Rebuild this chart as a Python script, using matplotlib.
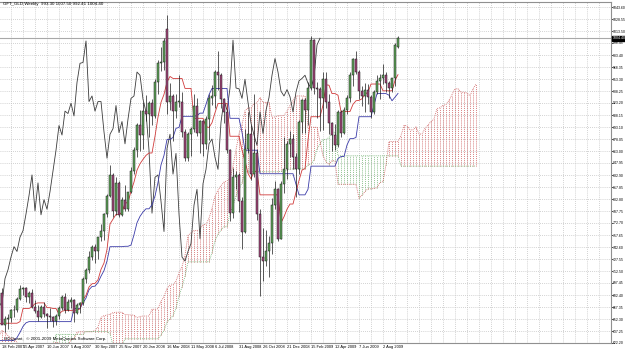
import numpy as np
import matplotlib
matplotlib.use("Agg")
import matplotlib.pyplot as plt
import matplotlib.transforms as mtransforms

# ---- weekly candles GFT_GLD (18 Feb 2007 .. 6 Sep 2009) ----
opens = [668,685,645,652,654,663,663,677,690,691,680,685,667,662,655,667,658,656,655,650,
         656,666,680,664,674,676,660,670,672,703,714,730,743,737,755,763,784,807,833,788,
         823,783,802,790,812,838,864,895,883,913,910,923,907,949,973,974,1016,925,932,913,
         925,925,887,854,884,891,920,886,900,872,903,929,932,962,958,928,912,864,785,830,
         833,800,762,866,884,834,860,784,730,725,737,747,795,815,753,822,840,872,878,855,
         840,899,927,914,942,1002,942,941,929,953,924,898,883,870,912,885,914,930,958,979,
         962,938,932,940,931,912,937,951,954,958,948,942,955,993.30]
highs = [690,691,656,658,665,670,680,695,692,692,688,690,676,670,670,673,660,666,656,659,
         668,683,685,678,680,678,672,674,705,716,737,745,746,755,771,785,809,845,835,830,
         826,805,820,812,843,868,898,914,925,933,926,928,953,977,993,1005,1033,948,935,935,
         958,937,890,887,893,935,930,902,902,907,935,946,965,988,961,930,916,866,842,838,
         835,805,890,912,896,935,865,790,767,764,756,804,826,817,826,880,875,888,884,860,
         902,928,929,949,1007,1003,949,943,962,962,935,899,897,915,915,918,933,962,980,989,
         965,945,948,947,933,940,958,960,972,962,951,955,998,1007.50]
lows = [664,648,636,640,648,655,661,676,682,673,672,666,660,650,653,655,641,650,642,645,
        652,663,660,662,666,648,658,660,670,698,710,726,722,727,750,752,780,805,780,783,
        780,782,788,788,810,834,855,863,866,900,880,895,904,934,963,965,910,915,875,905,
        918,880,850,851,857,887,882,860,857,865,877,921,917,940,917,898,860,775,779,815,
        786,740,760,860,827,830,776,681,700,719,705,734,790,750,753,810,828,855,840,805,
        834,885,885,895,940,935,904,888,889,917,884,863,864,868,880,884,910,925,945,960,
        928,920,912,922,905,910,935,928,947,937,930,937,945,992.41]
closes = [685,645,652,654,663,663,677,690,691,680,685,667,662,655,667,658,656,655,650,656,
          666,680,664,674,676,660,670,672,703,714,730,743,737,755,763,784,807,833,788,823,
          783,802,790,812,838,864,895,883,913,910,923,907,949,973,974,1001,925,932,913,925,
          925,887,854,884,891,920,886,900,872,903,929,932,962,958,928,912,864,785,830,833,
          800,762,866,884,834,860,784,730,725,737,747,795,815,753,822,840,872,878,855,840,
          899,927,914,942,1002,942,941,929,953,924,898,883,870,912,885,914,930,958,979,962,
          938,932,940,931,912,937,951,954,958,948,942,955,996,1004.40]

# ---- Ichimoku lines ----
tenkan = [646.5,647,647,647,647,647,647,649,665.5,665.5,665.5,667.5,671.5,672.5,672.5,672.5,
          666.5,666.5,665.5,665.5,658.5,662,663,663,663,663.5,663.5,665,676.5,682,692.5,696.5,
          697,701.5,714.5,722.5,739.5,771.5,777.5,783.5,783.5,786,797.5,798.5,812.5,824,839,847,
          852.5,857.5,860.5,860.5,881.5,905.5,924,934,949.5,956.5,954,954,954,954,941.5,941.5,
          941.5,904,904,904,904,893.5,892.5,898.5,911,922.5,922.5,922.5,922.5,881.5,881.5,881.5,
          881.5,864,850.5,835,828,837.5,837.5,808,808,808,808,808,808,808,773,780.5,790,796.5,
          796.5,811,826,839,841,877,906,906,906,906,920.5,946,945.5,935,935,933,912.5,912.5,
          912.5,912.5,921.5,926,926.5,928.5,934.5,936.5,947,947,947,947,938.5,938.5,938.5,938.5,
          951.5,958.75]
kijun = [625,625.5,625.5,625.5,625.5,625.5,629,635.5,643,647.5,649,649,649,649,649,649,649,649,
         649,649,649,649,649,649,649,665.5,665.5,665.5,672.5,678.5,689,693,693.5,698,706,713,725,
         743,743,743,743,743,743.5,743.5,745,758,773,781,786.5,790.5,790.5,795.5,806.5,823.5,
         845.5,857.5,877.5,877.5,880,891.5,892.5,906.5,906.5,906.5,906.5,906.5,907.5,910.5,910.5,
         921.5,933.5,941.5,941.5,941.5,941.5,941.5,941.5,904,904,904,904,886.5,864,864,864,864,
         864,834.5,834.5,834.5,834.5,834.5,834.5,834.5,834.5,834.5,834.5,834.5,834.5,821,808,808,
         808,815,844,844,844,844,844,844,844,844,844,853.5,856,856,870.5,878.5,878.5,880,906,906,
         906,906,906,920.5,935,935,935,935,933,926,930.5,935.25]
span_a = [631.25,638,635.5,631.5,627.5,627.5,622.75,618.75,615.5,615.5,616.5,615.25,603.25,606.5,
          607.75,609.5,616,619.75,622,623,622.25,618.25,618.25,619,626.5,627.25,635.75,636.25,
          636.25,636.25,636.25,636.25,638,642.25,654.25,656.5,657.25,658.25,660.25,660.75,660.75,
          660.75,657.75,657.75,657.25,657.25,653.75,655.5,656,656,656,664.5,664.5,665.25,674.5,
          680.25,690.75,694.75,695.25,699.75,710.25,717.75,732.25,757.25,760.25,763.25,763.25,
          764.5,770.5,771,778.75,791,806,814,819.5,824,825.5,828,844,864.5,884.75,895.75,913.5,
          917,917,922.75,923.25,930.25,924,924,924,905.25,905.75,907.25,907.25,907.5,913,920,
          926.25,932,932,932,932,892.75,892.75,892.75,892.75,875.25,857.25,849.5,846,850.75,
          850.75,821.25,821.25,821.25,821.25,821.25,821.25,821.25,803.75,807.5,812.25,815.5,
          815.5,816,817,823.5,824.5,846,875,875,875,875,882.25,895,894.75,889.5,889.5,893.25,
          884.25,884.25,891.5,895.5,900,903,916.25,917.25,920.25,921.25,926.5,933.75,941,941,
          936.75,936.75,935.75,932.25,941,947]
span_b = [581.5,585.5,587.5,591.5,593.5,593.5,593.5,593.5,593.5,593.5,593.5,595.5,605,610,612.5,
          612.5,612.5,612.5,621,633,633,633,633,633,633,633,633,633,633,636.5,636.5,636.5,636.5,
          636.5,636.5,636.5,636.5,634,619,619,619,619,627.5,627.5,627.5,627.5,627.5,627.5,627.5,
          627.5,627.5,627.5,627.5,627.5,632.5,638,648.5,652.5,656.5,665.5,681,692.5,706,724,724,
          724,724,724,724,724,724,735.5,750.5,758.5,764,768,768,784.5,794.5,806.5,816.5,823,837,
          837,837,837,837,837,837,837,837,837,837,837,837.5,837.5,839,840.5,840.5,840.5,840.5,
          840.5,840.5,845.5,846.5,851.5,865.5,871.5,877.5,877.5,880,886.5,886.5,857,857,857,857,
          857,857,857,857,857,857,857,857,857,857,857,857,857,857,857,857,857,844,844,844,844,844,
          844,844,844,844,844,844,844,844,844,844,844,844,844,844,844,844,844,844,844,844,844.25]

price_ticks = [622.20,637.25,652.30,667.35,682.40,697.45,712.50,727.55,742.60,757.65,772.70,
               787.75,802.80,817.85,832.90,847.95,863.00,878.05,893.10,908.15,923.20,938.25,
               953.30,968.35,983.40,998.45,1013.50,1028.55,1043.60]
date_labels = ["18 Feb 2007","15 Apr 2007","10 Jun 2007","5 Aug 2007","30 Sep 2007","25 Nov 2007",
               "20 Jan 2008","16 Mar 2008","11 May 2008","6 Jul 2008","31 Aug 2008","26 Oct 2008",
               "21 Dec 2008","15 Feb 2009","12 Apr 2009","7 Jun 2009","2 Aug 2009"]
date_bars = [0, 8, 16, 24, 32, 40, 48, 56, 64, 72, 80, 88, 96, 104, 112, 120, 128]
title = "GFT_GLD,Weekly  993.30 1007.50 992.41 1004.40"
shift = 26

W, H = 625, 350
plt.rcParams["font.family"] = ["Liberation Sans", "DejaVu Sans"]
fig = plt.figure(figsize=(6.25, 3.5), dpi=100)
ax = fig.add_axes([0, (H-343)/H, 611/W, (343-2)/H])
ax.set_xlim(1/3, 204)
ylo = 622.20
ax.set_ylim(ylo, ylo + 341*15.05/12)

for v in price_ticks:
    ax.axhline(v, color="#c4c4c4", lw=0.6, ls=(0, (1, 1.5)), zorder=0)
for b in range(0, 205, 4):
    ax.axvline(b, color="#c4c4c4", lw=0.6, ls=(0, (1, 1.5)), zorder=0)

# Kumo cloud (hatched by dotted vertical lines)
red_c = "#cd5c5c"; grn_c = "#6fb06f"
xs_c = np.arange(len(span_a))
sa = np.array(span_a); sb = np.array(span_b)
up = sa >= sb
ax.vlines(xs_c[up], sb[up], sa[up], colors=red_c, lw=0.6, ls=(0, (1, 1.3)), zorder=1)
ax.vlines(xs_c[~up], sa[~up], sb[~up], colors=grn_c, lw=0.6, ls=(0, (1, 1.3)), zorder=1)
ax.plot(xs_c, span_a, color=red_c, lw=0.6, ls=(0, (1, 1.3)), zorder=1)
ax.plot(xs_c, span_b, color=grn_c, lw=0.6, ls=(0, (1, 1.3)), zorder=1)

ax.axhline(closes[-1], color="#a8a8a8", lw=0.8, zorder=1)

xs = np.arange(len(closes))
ax.plot(xs[:len(closes)-shift], closes[shift:], color="#3c3c3c", lw=0.6, zorder=2)   # chikou
ax.plot(xs, kijun, color="#3a3aa8", lw=0.6, zorder=2)
ax.plot(xs, tenkan, color="#d03a3a", lw=0.6, zorder=2)

ax.vlines(xs, lows, highs, colors="#1a1a1a", lw=0.5, zorder=3)
o = np.array(opens, float); c = np.array(closes, float)
bull = c >= o
body = np.maximum(np.abs(c - o), 0.6)
ax.bar(xs[bull], body[bull], bottom=np.minimum(o, c)[bull], width=0.72, color="#5fa55a",
       edgecolor="#1a1a1a", lw=0.35, zorder=4)
ax.bar(xs[~bull], body[~bull], bottom=np.minimum(o, c)[~bull], width=0.72, color="#a3467a",
       edgecolor="#1a1a1a", lw=0.35, zorder=4)

ax.spines["left"].set_visible(False)
for s in ["right", "top", "bottom"]:
    ax.spines[s].set_color("#909090"); ax.spines[s].set_linewidth(0.8)
ax.yaxis.tick_right()
ax.set_yticks(price_ticks)
ax.set_yticklabels([f"{v:.2f}" for v in price_ticks])
ax.tick_params(axis="y", labelsize=2.5, length=1.2, width=0.5, pad=0.4, colors="#000000")
ax.set_xticks([])

tr = mtransforms.blended_transform_factory(ax.transData, ax.transAxes)
for b, lab in zip(date_bars, date_labels):
    ax.text(max(b, 0.9), -4/341, lab, transform=tr, fontsize=2.9, ha="left", va="center", clip_on=False)

fig.text(3/W, 1-4/H, title, fontsize=3.2, va="center", ha="left")
fig.text(4/W, 1-339/H, "HGQuant,  \u00a9 2001-2009 MetaQuotes Software Corp.", fontsize=3.2, va="center", ha="left")
py = ax.transData.transform((0, closes[-1]))[1]
fig.text(612.5/W, py/fig.dpi/3.5, f"{closes[-1]:.2f}", fontsize=2.5, va="center", ha="left", color="white",
         bbox=dict(boxstyle="square,pad=0.12", fc="black", ec="black"))

fig.savefig("out.png", dpi=100)
